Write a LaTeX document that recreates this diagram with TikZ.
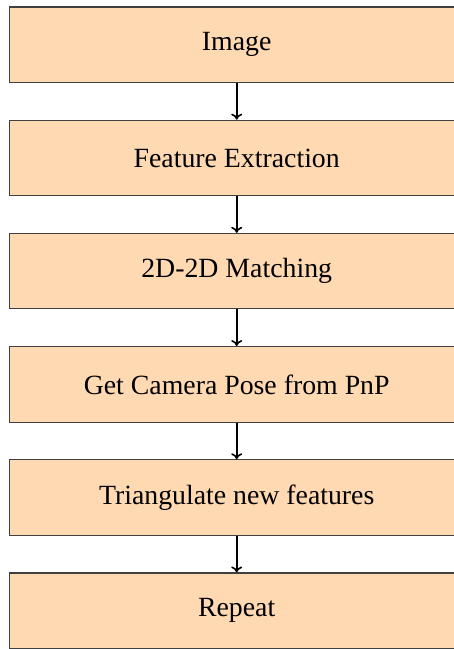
\documentclass[tikz,border=0pt]{standalone}
\usepackage{fontspec}
\setmainfont{Liberation Serif}
\usetikzlibrary{arrows.meta}
\begin{document}
\begin{tikzpicture}[x=1pt,y=1pt,
  stepbox/.style={draw=black!75, line width=1.1pt, fill=orange!30,
    minimum width=454.4pt, minimum height=75.5pt, inner sep=0pt,
    font=\fontsize{27.8pt}{33pt}\selectfont},
  conn/.style={-{To[length=6pt,width=11pt]}, line width=1.6pt, black}]
\clip (0,0) rectangle (454,-649);
\useasboundingbox (0,0) rectangle (454,-649);
\node[stepbox] (s1) at (236.7,-44.75) {Image};
\node[stepbox] (s2) at (236.7,-157.95) {Feature Extraction};
\node[stepbox] (s3) at (236.7,-271.15) {2D-2D Matching};
\node[stepbox] (s4) at (236.7,-384.35) {Get Camera Pose from PnP};
\node[stepbox] (s5) at (236.7,-497.55) {Triangulate new features};
\node[stepbox] (s6) at (236.7,-610.75) {Repeat};
\draw[conn] (s1) -- (s2);
\draw[conn] (s2) -- (s3);
\draw[conn] (s3) -- (s4);
\draw[conn] (s4) -- (s5);
\draw[conn] (s5) -- (s6);
\end{tikzpicture}
\end{document}
